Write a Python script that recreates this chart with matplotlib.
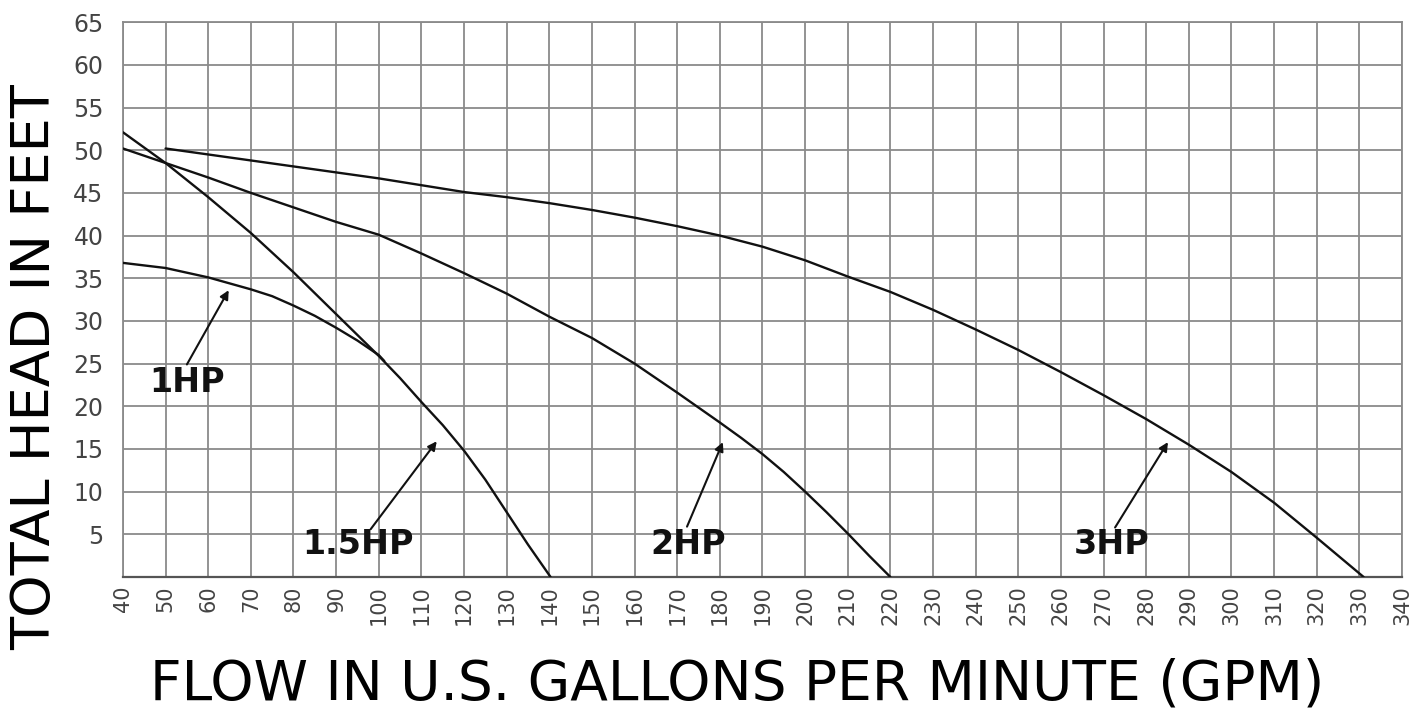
#-*- coding: utf-8 -*-

# ----- Include library -----
import matplotlib
matplotlib.use("Agg")
import matplotlib.pyplot as plt
#_____________________________________________________________________

# ----- Pump curve data -----
hp1_gpm  = [40, 50, 60, 70, 75, 80, 85, 90, 95, 100, 101.3]
hp1_head = [36.8, 36.2, 35.1, 33.7, 32.9, 31.8, 30.6, 29.2, 27.7, 26.0, 25.3]

hp15_gpm  = [40, 50, 60, 70, 80, 90, 100, 105, 110, 115, 120, 125, 130,
             135, 140.3]
hp15_head = [52.1, 48.5, 44.5, 40.3, 35.7, 30.8, 25.9, 23.3, 20.5, 17.8,
             14.8, 11.4, 7.6, 3.8, 0]

hp2_gpm  = [40, 50, 60, 70, 80, 90, 100, 110, 120, 130, 140, 150, 160,
            170, 180, 185, 190, 195, 200, 205, 210, 215, 220]
hp2_head = [50.2, 48.5, 46.8, 45.0, 43.3, 41.6, 40.1, 37.9, 35.6, 33.2,
            30.5, 28.0, 25.0, 21.6, 18.1, 16.3, 14.4, 12.3, 10.0, 7.6,
            5.1, 2.5, 0]

hp3_gpm  = [50, 60, 70, 80, 90, 100, 110, 120, 130, 140, 150, 160, 170,
            180, 190, 200, 210, 220, 230, 240, 250, 260, 270, 280, 290,
            300, 310, 320, 331]
hp3_head = [50.2, 49.5, 48.8, 48.1, 47.4, 46.7, 45.9, 45.1, 44.5, 43.8,
            43.0, 42.1, 41.1, 40.0, 38.7, 37.1, 35.2, 33.4, 31.3, 29.0,
            26.6, 24.0, 21.3, 18.5, 15.5, 12.3, 8.7, 4.6, 0]

# label text, text position, arrow tail, arrow tip
curve_labels = ["1HP", "1.5HP", "2HP", "3HP"]
label_pos    = [(55, 22.8), (95.1, 3.75), (172.5, 3.75), (272, 3.75)]
arrow_tail   = [(55.0, 24.9), (98.1, 5.6), (172.3, 5.9), (272.7, 5.8)]
arrow_tip    = [(64.8, 33.6), (113.6, 15.9), (180.7, 15.8), (285.1, 15.8)]

x_ticks = list(range(40, 341, 10))
y_ticks = list(range(5, 66, 5))
#_____________________________________________________________________

# ----- Main processing -----
def main_proc():
    plt.rcParams['font.family'] = ['DejaVu Sans']
    fig = plt.figure(figsize=(14.28, 7.15), dpi=100)
    ax = fig.add_axes([0.0861, 0.193, 0.8957, 0.776])

    # 曲線
    for gx, gy in [(hp1_gpm, hp1_head), (hp15_gpm, hp15_head),
                   (hp2_gpm, hp2_head), (hp3_gpm, hp3_head)]:
        ax.plot(gx, gy, color='#111111', lw=1.7, solid_joinstyle='round',
                solid_capstyle='round', zorder=3)

    # ラベルと矢印
    for txt, tp, ta, tt in zip(curve_labels, label_pos, arrow_tail, arrow_tip):
        ax.text(tp[0], tp[1], txt, fontsize=24, fontweight='bold',
                ha='center', va='center', color='#111111', zorder=4)
        ax.annotate('', xy=tt, xytext=ta,
                    arrowprops=dict(arrowstyle='-|>', color='#111111', lw=1.5,
                                    mutation_scale=13, shrinkA=0, shrinkB=0),
                    zorder=4)

    ax.set_xlim(40, 340)
    ax.set_ylim(0, 65)
    ax.set_xticks(x_ticks)
    ax.set_yticks(y_ticks)
    ax.set_xticklabels([str(v) for v in x_ticks], rotation=90)
    ax.tick_params(axis='x', length=0, pad=6, labelsize=15, labelcolor='#444444')
    ax.tick_params(axis='y', length=0, pad=14, labelsize=17, labelcolor='#444444')

    ax.grid(True, color='#8a8a8a', lw=1.3)
    ax.set_axisbelow(True)
    for side in ['top', 'right', 'left']:
        ax.spines[side].set_color('#8a8a8a')
        ax.spines[side].set_linewidth(1.3)
    ax.spines['bottom'].set_color('#555555')
    ax.spines['bottom'].set_linewidth(1.6)

    fig.text(0.0245, 0.487, 'TOTAL HEAD IN FEET', rotation=90, fontsize=39,
             ha='center', va='center', color='black')
    fig.text(0.516, 0.042, 'FLOW IN U.S. GALLONS PER MINUTE (GPM)', fontsize=39.6,
             ha='center', va='center', color='black')

    fig.savefig('out.png', dpi=100, facecolor='white')
#_____________________________________________________________________

if __name__ == '__main__':
    main_proc()
